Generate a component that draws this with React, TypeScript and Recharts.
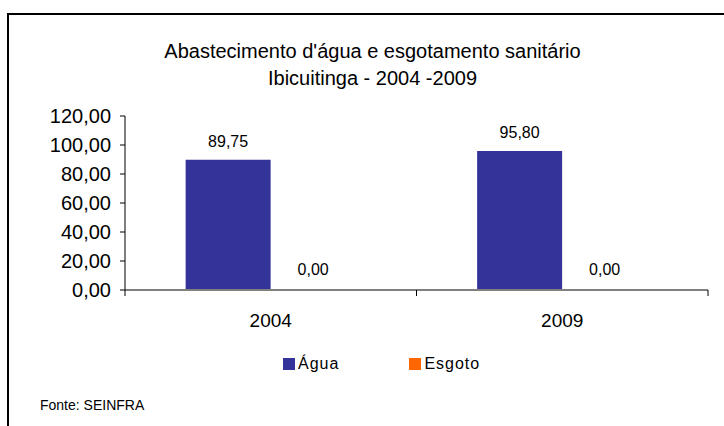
import React from 'react';
import { BarChart, Bar, XAxis, YAxis } from 'recharts';

const categories = ['2004', '2009'];
const agua = [89.75, 95.8];
const esgoto = [0, 0];
const yTicks = [0, 20, 40, 60, 80, 100, 120];

const data = categories.map((ano, i) => ({ ano, agua: agua[i], esgoto: esgoto[i] }));

const FONT = '"Liberation Sans", Arial, sans-serif';
const fmt = (v: number) => Number(v).toFixed(2).replace('.', ',');

// Recharts skips labels on zero-height bars, so the Água label also
// draws the Esgoto label of the adjacent bar (barGap is 0), using the
// Água bar's own pixels-per-unit to place it.
const PairLabel = (props: any) => {
  const { x, y, width, height, value, index } = props;
  const base = y + height;
  const perUnit = height / value;
  const ev = esgoto[index];
  const ey = base - ev * perUnit;
  return (
    <g>
      <text x={x + width / 2} y={y - 13} textAnchor="middle" fontSize={16} fontFamily={FONT} fill="#000">
        {fmt(value)}
      </text>
      <text x={x + width * 1.5} y={ey - 15} textAnchor="middle" fontSize={16} fontFamily={FONT} fill="#000">
        {fmt(ev)}
      </text>
    </g>
  );
};

// category label with tick marks on the category boundaries
const CategoryTick = (props: any) => {
  const { x, y, payload, index, width, visibleTicksCount } = props;
  const band = width / visibleTicksCount;
  return (
    <g>
      {index === 0 && <line x1={x - band / 2} x2={x - band / 2} y1={y} y2={y + 6} stroke="#000" />}
      <line x1={x + band / 2} x2={x + band / 2} y1={y} y2={y + 6} stroke="#000" />
      <text x={x} y={y} dy={37} textAnchor="middle" fontSize={19} fontFamily={FONT} fill="#000">
        {payload.value}
      </text>
    </g>
  );
};

export default function App() {
  return (
    <div style={{ position: 'absolute', left: 0, top: 0, width: 724, height: 426, overflow: 'hidden', background: '#fff', fontFamily: FONT }}>
      <div style={{ position: 'absolute', left: 7, top: 13, width: 740, height: 440, border: '2px solid #000', boxSizing: 'border-box' }} />
      <div style={{ position: 'absolute', left: 0, width: 745, top: 38, textAlign: 'center', fontSize: 20, lineHeight: '27px', color: '#000' }}>
        Abastecimento d'água e esgotamento sanitário
        <br />
        Ibicuitinga - 2004 -2009
      </div>
      <div style={{ position: 'absolute', left: 0, top: 0 }}>
        <BarChart width={724} height={426} data={data} margin={{ top: 116, right: 16, bottom: 106, left: 58 }}
          barCategoryGap="20.8%" barGap={0}>
          <XAxis dataKey="ano" height={30} axisLine={{ stroke: '#808080', strokeWidth: 2 }} tickLine={false}
            tickSize={0} tickMargin={0} tick={<CategoryTick />} />
          <YAxis domain={[0, 120]} ticks={yTicks} width={67} tickFormatter={fmt}
            axisLine={{ stroke: '#000' }} tickLine={{ stroke: '#000' }} tickSize={5} tickMargin={9}
            tick={{ fontSize: 20, fill: '#000', fontFamily: FONT }} />
          <Bar dataKey="agua" fill="#333399" isAnimationActive={false} label={<PairLabel />} />
          <Bar dataKey="esgoto" fill="#FF6600" isAnimationActive={false} />
        </BarChart>
      </div>
      <div style={{ position: 'absolute', left: 283, top: 355, fontSize: 16, letterSpacing: 1, display: 'flex', alignItems: 'center' }}>
        <span style={{ display: 'inline-block', width: 12, height: 12, background: '#333399', marginRight: 3 }} />
        <span>Água</span>
        <span style={{ display: 'inline-block', width: 12, height: 12, background: '#FF6600', marginLeft: 70, marginRight: 3 }} />
        <span>Esgoto</span>
      </div>
      <div style={{ position: 'absolute', left: 40, top: 397, fontSize: 14 }}>Fonte: SEINFRA</div>
    </div>
  );
}
